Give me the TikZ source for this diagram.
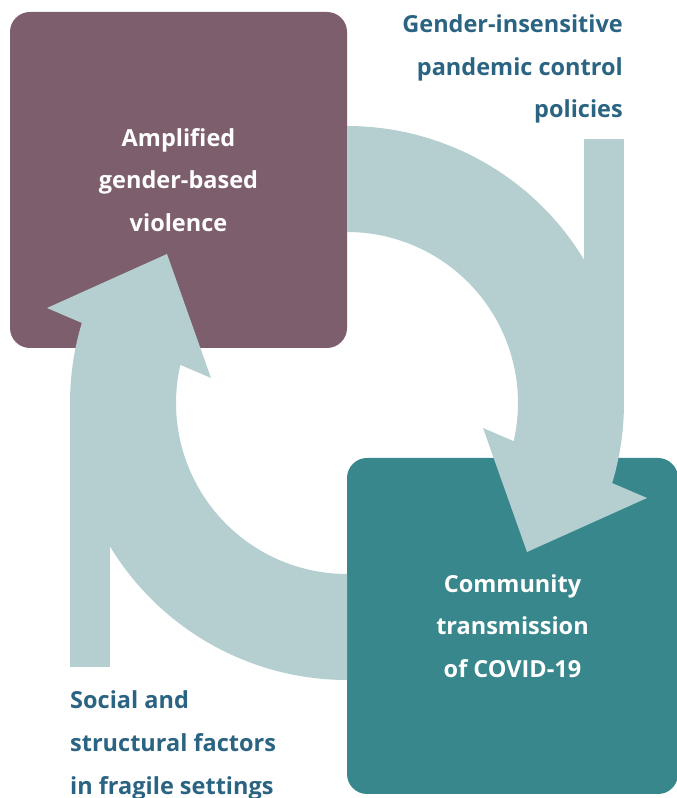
\documentclass[tikz,border=0pt]{standalone}
\usepackage{fontspec}
\setmainfont{Open Sans}
\usetikzlibrary{calc}
\definecolor{plum}{HTML}{7D5E6C}
\definecolor{boxteal}{HTML}{37878C}
\definecolor{loopblue}{HTML}{B5CFD1}
\definecolor{labelblue}{HTML}{2B6482}
\begin{document}
\begin{tikzpicture}[x=1pt,y=1pt,
  box/.style={rounded corners=20pt,minimum width=337pt,minimum height=336pt,inner sep=0pt,
    text=white,align=center,font=\fontsize{23.5}{42.5}\selectfont\bfseries},
  cause/.style={text=labelblue,inner sep=0pt,font=\fontsize{23.5}{42.5}\selectfont\bfseries},
  band/.style={fill=loopblue}]
 \useasboundingbox (0,0) rectangle (677,798);
 \node[box,fill=plum] (gbv) at (178.5,618) {Amplified\\gender-based\\violence};
 \node[box,fill=boxteal,minimum width=331pt] (covid) at (512.5,172) {Community\\transmission\\of COVID-19};
 % both halves of the loop, point symmetric about the centre
 \coordinate (c) at ($(gbv.south east)!.5!(covid.north west)$);
 \foreach \r in {0,180}{
  \begin{scope}[shift={(c)},rotate=\r]
   \fill[band] (90:277) arc[start angle=90,end angle=-16.8,radius=277]
     -- (300,-95) -- (180,-149) -- (136,-25) -- (-12.9:171)
     arc[start angle=-12.9,end angle=90,radius=171] -- cycle;
   \fill[band] (237,0) rectangle (277,264);
  \end{scope}}
 \node[cause,align=right,anchor=base east] (policies) at (623,680) {Gender-insensitive\\pandemic control\\policies};
 \node[cause,align=left,anchor=base west] (factors) at (70,4) {Social and\\structural factors\\in fragile settings};
\end{tikzpicture}
\end{document}
